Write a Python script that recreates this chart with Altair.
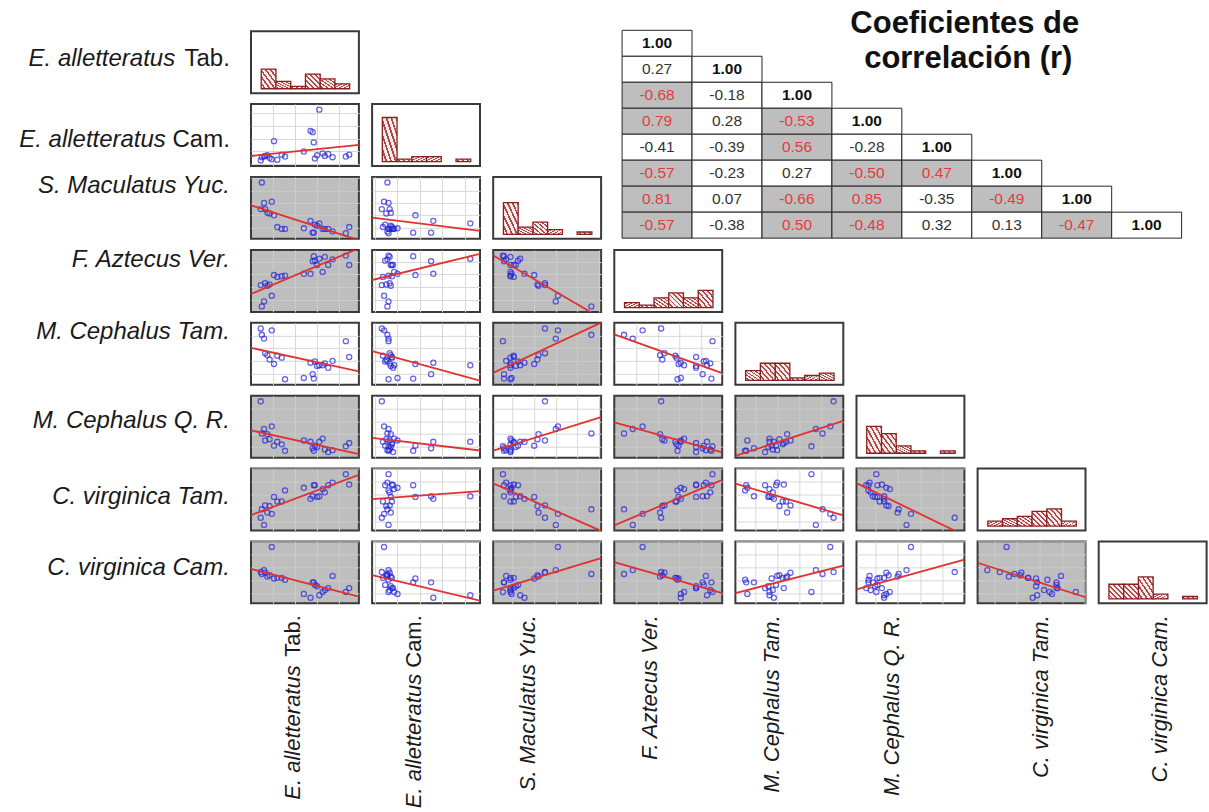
import altair as alt
import pandas as pd

# Series names: italic part and upright suffix
label_italic = ["E. alletteratus", "E. alletteratus", "S. Maculatus Yuc.", "F. Aztecus Ver.",
                "M. Cephalus Tam.", "M. Cephalus Q. R.", "C. virginica Tam.", "C. virginica Cam."]
label_plain = ["Tab.", "Cam.", "", "", "", "", "", ""]

# Observations, same order in every series
s0 = [9, 10, 12, 13, 15, 17, 19, 21, 24, 28, 31, 48, 54, 56, 57, 58, 60, 62, 65, 67, 70, 74, 86, 89]
s1 = [6, 11, 12, 13, 14, 10, 8, 36, 7, 15, 12, 20, 52, 50, 34, 9, 14, 85, 17, 13, 16, 11, 12, 15]
s2 = [50, 93, 60, 50, 44, 43, 62, 40, 21, 18, 18, 19, 31, 12, 12, 25, 23, 27, 18, 18, 18, 14, 11, 21]
s3 = [43, 9, 17, 46, 42, 44, 26, 59, 56, 57, 58, 61, 61, 81, 89, 82, 75, 85, 64, 88, 75, 84, 90, 75]
s4 = [91, 81, 75, 52, 49, 42, 88, 35, 48, 45, 11, 13, 37, 19, 12, 39, 32, 33, 33, 36, 29, 40, 71, 46]
s5 = [91, 41, 48, 30, 40, 32, 52, 22, 28, 24, 14, 30, 28, 18, 14, 22, 20, 28, 33, 16, 12, 15, 21, 26]
s6 = [25, 38, 14, 44, 33, 43, 31, 57, 50, 50, 67, 71, 54, 58, 75, 75, 57, 58, 69, 64, 75, 79, 92, 76]
s7 = [53, 50, 56, 52, 46, 48, 92, 43, 44, 44, 41, 19, 13, 37, 37, 33, 31, 17, 22, 25, 28, 47, 22, 28]
series = [s0, s1, s2, s3, s4, s5, s6, s7]

# Correlation coefficients (lower triangle, row by row)
corr = [
    [1.00],
    [0.27, 1.00],
    [-0.68, -0.18, 1.00],
    [0.79, 0.28, -0.53, 1.00],
    [-0.41, -0.39, 0.56, -0.28, 1.00],
    [-0.57, -0.23, 0.27, -0.50, 0.47, 1.00],
    [0.81, 0.07, -0.66, 0.85, -0.35, -0.49, 1.00],
    [-0.57, -0.38, 0.50, -0.48, 0.32, 0.13, -0.47, 1.00],
]
title_lines = ["Coeficientes de", "correlación (r)"]

N = len(series)
keys = [f"s{k}" for k in range(N)]
df = pd.DataFrame({k: v for k, v in zip(keys, series)})

# ---- layout and style ----
PANEL_W, PANEL_H = 108, 62
COL_GAP, ROW_GAP = 11.2, 8.9          # gaps between stroked panel bounds
PITCH_X = PANEL_W + COL_GAP + 2
PITCH_Y = PANEL_H + ROW_GAP + 2
TOP_PAD = 4
CELLS_TOP = 26                        # table cells start this far below the top
LABEL_W = 239
PAD_FRAC = 0.11
SIG_LEVEL = 0.45
HIST_BINS = 6
HIST_Y = [-1.8, 23.5]
ROW_LABEL_DY = [-3, 5, -22, -21, -22, -5, -2, -4]
COL_LABEL_DY = [-13, -13, -20, -19, -18, -19, 8, 6]

GREY = "#bebebe"
EDGE = "#3a3a3a"
POINT = "#2626d8"
FIT = "#e0332f"
GRID_WHITE = "#d8d8d8"
GRID_GREY = "#cbcbcb"
HATCH_LIGHT = "#f7eded"
HATCH_DARK = "#b04848"
HIST_EDGE = "#8c1f1f"
TEXT = "#1a1a1a"
RED_TXT = "#e8393c"

ROW_FONT = 24
BOT_FONT = 22
CELL_FONT = 15.5
TITLE_FONT = 31

# em widths (Arial) of the upright suffixes, leading space included
SUFFIX_EM = {"": 0.0, "Tab.": 2.279, "Cam.": 2.667}

# diagonal hatching for the histogram bars, built as a hard-stop gradient
HATCH_STRIPES = 6
HATCH_LINE = 0.38                      # share of each period drawn dark
hatch_stops = []
for s in range(HATCH_STRIPES):
    a = s / HATCH_STRIPES
    b = (s + 1 - HATCH_LINE) / HATCH_STRIPES
    c = (s + 1) / HATCH_STRIPES
    hatch_stops += [alt.GradientStop(color=HATCH_LIGHT, offset=a),
                    alt.GradientStop(color=HATCH_LIGHT, offset=b),
                    alt.GradientStop(color=HATCH_DARK, offset=b),
                    alt.GradientStop(color=HATCH_DARK, offset=c)]
HATCH = alt.LinearGradient(gradient="linear", stops=hatch_stops, x1=0, y1=1, x2=1, y2=0)


def domain_of(k):
    lo, hi = min(series[k]), max(series[k])
    pad = (hi - lo) * PAD_FRAC
    return [lo - pad, hi + pad]


def panel_view(fill):
    return alt.ViewBackground(fill=fill, stroke=EDGE, strokeWidth=2)


def blank_view():
    return alt.ViewBackground(strokeWidth=0)


def scatter_panel(i, j):
    xs, ys = keys[j], keys[i]
    sig = abs(corr[i][j]) >= SIG_LEVEL
    grid = GRID_GREY if sig else GRID_WHITE
    axis = alt.Axis(grid=True, gridColor=grid, gridWidth=1, labels=False, ticks=False,
                    domain=False, title=None, tickCount=4)
    xenc = alt.X(f"{xs}:Q", scale=alt.Scale(domain=domain_of(j), nice=False, zero=False), axis=axis)
    yenc = alt.Y(f"{ys}:Q", scale=alt.Scale(domain=domain_of(i), nice=False, zero=False), axis=axis)
    pts = alt.Chart(df).mark_point(shape="circle", filled=False, size=26, strokeWidth=1.3,
                                   color=POINT, clip=True).encode(x=xenc, y=yenc)
    fit = (alt.Chart(df)
           .transform_regression(xs, ys, extent=domain_of(j))
           .mark_line(color=FIT, strokeWidth=1.8, clip=True)
           .encode(x=xenc, y=yenc))
    return alt.layer(pts, fit).properties(width=PANEL_W, height=PANEL_H,
                                          view=panel_view(GREY if sig else "white"))


def hist_panel(k):
    lo, hi = min(series[k]), max(series[k])
    return (alt.Chart(df)
            .mark_bar(fill=HATCH, stroke=HIST_EDGE, strokeWidth=1.3, binSpacing=0, clip=True)
            .encode(
                x=alt.X(f"{keys[k]}:Q",
                        bin=alt.Bin(extent=[lo, hi], step=(hi - lo) / HIST_BINS, nice=False),
                        scale=alt.Scale(domain=domain_of(k), nice=False, zero=False), axis=None),
                y=alt.Y("count():Q", scale=alt.Scale(domain=HIST_Y, nice=False, zero=False), axis=None),
            )
            .properties(width=PANEL_W, height=PANEL_H, view=panel_view("white")))


def matrix_row(i):
    panels = [scatter_panel(i, j) for j in range(i)] + [hist_panel(i)]
    return alt.hconcat(*panels, spacing=COL_GAP)


# ---- row labels: one tall column, rows in index units ----
LABEL_H = 600
row0_center = CELLS_TOP + 1 + PANEL_H / 2          # pixel of row 0 centre inside the column
y_lo = 0.5 - row0_center / PITCH_Y
y_hi = y_lo + LABEL_H / PITCH_Y
ly = alt.Scale(domain=[y_lo, y_hi], nice=False, zero=False, reverse=True)
ldf = pd.DataFrame({"row": list(range(N)), "yc": [i + 0.5 for i in range(N)],
                    "it": label_italic, "pl": label_plain})
llayers = []
for i in range(N):
    sub = alt.Chart(ldf).transform_filter(alt.datum.row == i)
    shift = SUFFIX_EM[label_plain[i]] * ROW_FONT
    enc = dict(x=alt.value(LABEL_W - 9), y=alt.Y("yc:Q", scale=ly, axis=None))
    llayers.append(sub.mark_text(align="right", baseline="middle", fontStyle="italic",
                                 fontSize=ROW_FONT, color=TEXT, dx=-shift, dy=ROW_LABEL_DY[i])
                   .encode(text="it:N", **enc))
    if label_plain[i]:
        llayers.append(sub.mark_text(align="right", baseline="middle", fontSize=ROW_FONT,
                                     color=TEXT, dy=ROW_LABEL_DY[i])
                       .encode(text="pl:N", **enc))
labels_col = alt.layer(*llayers).properties(width=LABEL_W, height=LABEL_H, view=blank_view())

# ---- correlation table ----
cells = []
for r, row in enumerate(corr):
    for c, v in enumerate(row):
        kind = "diag" if r == c else ("sig" if abs(v) >= SIG_LEVEL else "plain")
        cells.append({"r0": r, "r1": r + 1, "c0": c, "c1": c + 1, "rm": r + 0.5, "cm": c + 0.5,
                      "txt": f"{v:.2f}", "kind": kind})
tdf = pd.DataFrame(cells)
CELL_W, CELL_H = 70, 26
TOP_ROWS = CELLS_TOP / CELL_H
tx = alt.Scale(domain=[0, N], nice=False, zero=False)
ty = alt.Scale(domain=[-TOP_ROWS, N], nice=False, zero=False, reverse=True)

tbase = alt.Chart(tdf)
rects = tbase.mark_rect(stroke="#262626", strokeWidth=1).encode(
    x=alt.X("c0:Q", scale=tx, axis=None), x2="c1:Q",
    y=alt.Y("r0:Q", scale=ty, axis=None), y2="r1:Q",
    fill=alt.Fill("kind:N", scale=alt.Scale(domain=["diag", "sig", "plain"],
                                            range=["white", GREY, "white"]), legend=None),
)
num_txt = tbase.transform_filter("datum.kind != 'diag'").mark_text(fontSize=CELL_FONT).encode(
    x=alt.X("cm:Q", scale=tx, axis=None), y=alt.Y("rm:Q", scale=ty, axis=None), text="txt:N",
    color=alt.Color("kind:N", scale=alt.Scale(domain=["sig", "plain"], range=[RED_TXT, "#333333"]),
                    legend=None),
)
diag_txt = tbase.transform_filter("datum.kind == 'diag'").mark_text(
    fontSize=CELL_FONT, fontWeight="bold", color="#111111").encode(
    x=alt.X("cm:Q", scale=tx, axis=None), y=alt.Y("rm:Q", scale=ty, axis=None), text="txt:N")
title_df = pd.DataFrame({"txt": title_lines, "cx": [4.9, 4.95], "ry": [-0.26, 1.1]})
title_txt = alt.Chart(title_df).mark_text(fontSize=TITLE_FONT, fontWeight="bold", color="#111111",
                                          baseline="middle").encode(
    x=alt.X("cx:Q", scale=tx, axis=None), y=alt.Y("ry:Q", scale=ty, axis=None), text="txt:N")
table = alt.layer(rects, num_txt, diag_txt, title_txt).properties(
    width=CELL_W * N, height=CELLS_TOP + CELL_H * N, view=blank_view())

# small blank block that drops the first matrix rows level with the table cells
spacer = alt.Chart(pd.DataFrame({"z": [0]})).mark_point(opacity=0, size=1).encode(
    x=alt.value(0.5), y=alt.value(4)).properties(width=1, height=CELLS_TOP - ROW_GAP - 1,
                                                 view=blank_view())

left_top = alt.vconcat(spacer, matrix_row(0), matrix_row(1), matrix_row(2), spacing=ROW_GAP)
top_block = alt.hconcat(left_top, table, spacing=18.4)

# ---- rotated column labels ----
first_center = 1 + PANEL_W / 2
total_w = N * PITCH_X - COL_GAP
bdf = pd.DataFrame({"c": list(range(N)), "it": label_italic, "pl": label_plain})
bx = alt.Scale(domain=[-first_center / PITCH_X, (total_w - first_center) / PITCH_X],
               nice=False, zero=False)
blayers = []
for k in range(N):
    sub = alt.Chart(bdf).transform_filter(alt.datum.c == k)
    em = SUFFIX_EM[label_plain[k]]
    enc = dict(x=alt.X("c:Q", scale=bx, axis=None), y=alt.value(2))
    blayers.append(sub.mark_text(angle=270, align="right", baseline="middle", fontStyle="italic",
                                 fontSize=BOT_FONT, color=TEXT, dx=-em * BOT_FONT,
                                 dy=COL_LABEL_DY[k])
                   .encode(text="it:N", **enc))
    if label_plain[k]:
        blayers.append(sub.mark_text(angle=270, align="right", baseline="middle",
                                     fontSize=BOT_FONT, color=TEXT, dy=COL_LABEL_DY[k])
                       .encode(text="pl:N", **enc))
bottom = alt.layer(*blayers).properties(width=total_w, height=192, view=blank_view())

right_part = alt.vconcat(top_block, *[matrix_row(i) for i in range(3, N)], bottom, spacing=ROW_GAP)

chart = (alt.hconcat(labels_col, right_part, spacing=COL_GAP)
         .properties(padding={"left": 0, "top": TOP_PAD, "right": 0, "bottom": 0},
                     background="white")
         .configure(font="Liberation Sans"))

chart.save("out.html", embed_options={"renderer": "svg", "actions": False})
